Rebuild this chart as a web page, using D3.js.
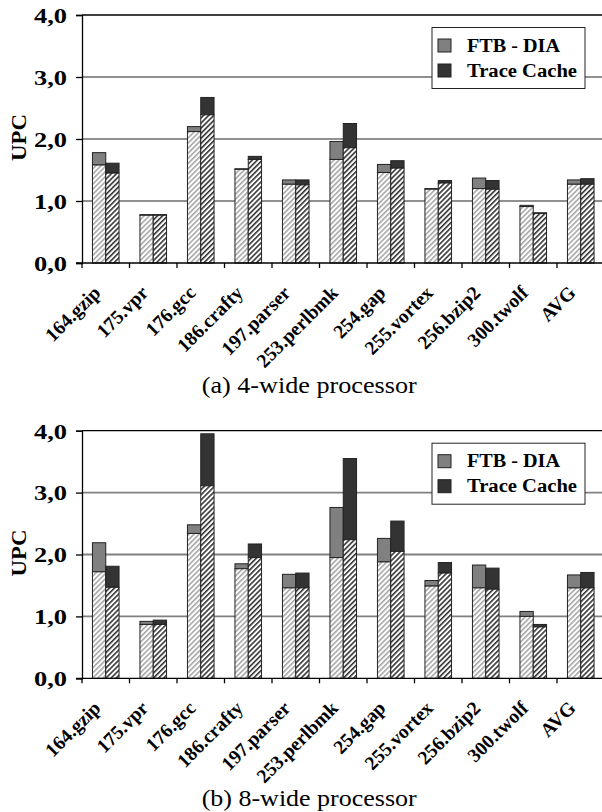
<!DOCTYPE html>
<html>
<head>
<meta charset="utf-8">
<script src="https://cdn.jsdelivr.net/npm/d3@7"></script>
<style>
  body { margin: 0; background: #fff; }
  svg { display: block; }
  text { font-family: "Liberation Serif", "Times New Roman", Times, serif; }
</style>
</head>
<body>
<svg id="chart" width="602" height="812"></svg>
<script>
const categories = ['164.gzip', '175.vpr', '176.gcc', '186.crafty', '197.parser',
  '253.perlbmk', '254.gap', '255.vortex', '256.bzip2', '300.twolf', 'AVG'];
const series = ['FTB - DIA', 'Trace Cache'];
const yTicks = [0, 1, 2, 3, 4];

// 4-wide processor: hatched base and full bar height
const ftbBase4 = [1.58, 0.77, 2.12, 1.51, 1.27, 1.67, 1.46, 1.19, 1.20, 0.91, 1.27];
const ftbTotal4 = [1.78, 0.78, 2.20, 1.52, 1.34, 1.96, 1.59, 1.20, 1.37, 0.93, 1.34];
const tcBase4 = [1.45, 0.77, 2.39, 1.67, 1.26, 1.86, 1.53, 1.29, 1.19, 0.80, 1.27];
const tcTotal4 = [1.61, 0.78, 2.67, 1.72, 1.34, 2.25, 1.65, 1.33, 1.33, 0.81, 1.36];

// 8-wide processor
const ftbBase8 = [1.72, 0.87, 2.34, 1.77, 1.46, 1.95, 1.88, 1.49, 1.46, 1.00, 1.46];
const ftbTotal8 = [2.19, 0.92, 2.48, 1.85, 1.68, 2.76, 2.26, 1.58, 1.83, 1.08, 1.67];
const tcBase8 = [1.47, 0.87, 3.11, 1.95, 1.46, 2.24, 2.05, 1.70, 1.44, 0.83, 1.46];
const tcTotal8 = [1.81, 0.94, 3.95, 2.17, 1.70, 3.55, 2.54, 1.87, 1.78, 0.87, 1.71];

const svg = d3.select('#chart');
const defs = svg.append('defs');

function hatch(id, color, width) {
  const p = defs.append('pattern')
    .attr('id', id)
    .attr('patternUnits', 'userSpaceOnUse')
    .attr('width', 3.6).attr('height', 3.6)
    .attr('patternTransform', 'rotate(45)');
  p.append('rect').attr('width', 3.6).attr('height', 3.6).attr('fill', '#fff');
  p.append('line')
    .attr('x1', 0.8).attr('y1', 0).attr('x2', 0.8).attr('y2', 3.6)
    .attr('stroke', color).attr('stroke-width', width);
}
hatch('hatchLight', '#9a9a9a', 1.4);
hatch('hatchDark', '#333', 1.6);

const segColors = ['#808080', '#333333'];
const baseFills = ['url(#hatchLight)', 'url(#hatchDark)'];

const left = 82, right = 604.5;

function drawPanel(cfg) {
  const g = svg.append('g');

  const y = d3.scaleLinear().domain([0, 4]).range([cfg.bottom, cfg.top]);
  const xTick = d3.scaleBand().domain(categories).range([left, right]);
  const x0 = d3.scaleBand().domain(categories).range([left, right])
    .paddingInner(0.44).paddingOuter(0.22);
  const x1 = d3.scaleBand().domain(series).range([0, x0.bandwidth()]);

  // gridlines
  g.append('g')
    .selectAll('line')
    .data(yTicks.filter(d => d > 0))
    .join('line')
    .attr('x1', left).attr('x2', 602)
    .attr('y1', d => y(d)).attr('y2', d => y(d))
    .attr('stroke', d => d === 4 ? '#000' : cfg.gridColor)
    .attr('stroke-width', d => d === 4 ? 1.3 : cfg.gridWidth);

  // y axis
  const yAxis = g.append('g')
    .attr('transform', `translate(${left},0)`)
    .call(d3.axisLeft(y).tickValues(yTicks).tickSize(6)
      .tickFormat(d => d3.format('.1f')(d).replace('.', ',')));
  yAxis.attr('font-family', null);
  yAxis.select('.domain').attr('stroke', '#000').attr('stroke-width', 1.3);
  yAxis.selectAll('.tick line').attr('stroke', '#000').attr('stroke-width', 1.3);
  yAxis.selectAll('.tick text')
    .attr('x', -15)
    .attr('dy', '0.35em')
    .attr('textLength', 33)
    .attr('lengthAdjust', 'spacingAndGlyphs')
    .style('font-size', '21px')
    .style('font-weight', 'bold')
    .attr('fill', '#000');

  g.append('text')
    .attr('transform', `translate(25.5,${(cfg.top + cfg.bottom) / 2 - 1.5}) rotate(-90)`)
    .attr('text-anchor', 'middle')
    .attr('textLength', 47)
    .attr('lengthAdjust', 'spacingAndGlyphs')
    .style('font-size', '20px')
    .style('font-weight', 'bold')
    .text('UPC');

  // bars
  const rows = categories.map((c, i) => ({
    cat: c,
    vals: [
      { s: 0, base: cfg.ftbBase[i], total: cfg.ftbTotal[i] },
      { s: 1, base: cfg.tcBase[i], total: cfg.tcTotal[i] }
    ]
  }));

  const grp = g.append('g').selectAll('g')
    .data(rows)
    .join('g')
    .attr('transform', d => `translate(${x0(d.cat)},0)`);

  const bar = grp.selectAll('g')
    .data(d => d.vals)
    .join('g')
    .attr('transform', d => `translate(${x1(series[d.s])},0)`);

  bar.append('rect')
    .attr('y', d => y(d.total))
    .attr('width', x1.bandwidth())
    .attr('height', d => y(d.base) - y(d.total))
    .attr('fill', d => segColors[d.s])
    .attr('stroke', '#222').attr('stroke-width', 1);

  bar.append('rect')
    .attr('y', d => y(d.base))
    .attr('width', x1.bandwidth())
    .attr('height', d => y(0) - y(d.base))
    .attr('fill', d => baseFills[d.s])
    .attr('stroke', '#222').attr('stroke-width', 1);

  // x axis
  const xAxis = g.append('g').attr('transform', `translate(0,${cfg.bottom})`);
  xAxis.append('line')
    .attr('x1', left - 6).attr('x2', 602)
    .attr('stroke', '#000').attr('stroke-width', 1.3);
  xAxis.selectAll('line.tk')
    .data(categories.concat(['__end']))
    .join('line')
    .attr('class', 'tk')
    .attr('x1', (d, i) => left + i * xTick.step())
    .attr('x2', (d, i) => left + i * xTick.step())
    .attr('y1', 0).attr('y2', 5)
    .attr('stroke', '#000').attr('stroke-width', 1.3);

  xAxis.selectAll('text')
    .data(categories)
    .join('text')
    .attr('transform', d => `translate(${xTick(d) + xTick.bandwidth() / 2 - 4},31) rotate(-45)`)
    .attr('text-anchor', 'end')
    .style('font-size', '19.5px')
    .style('font-weight', 'bold')
    .text(d => d);

  // legend
  const lg = g.append('g').attr('transform', `translate(432,${cfg.top + 12.5})`);
  lg.append('rect')
    .attr('width', 153).attr('height', 61)
    .attr('fill', '#fff').attr('stroke', '#222').attr('stroke-width', 1);
  const item = lg.selectAll('g')
    .data(series)
    .join('g')
    .attr('transform', (d, i) => `translate(6,${11.5 + i * 25})`);
  item.append('rect')
    .attr('width', 13).attr('height', 13)
    .attr('fill', (d, i) => segColors[i])
    .attr('stroke', '#222').attr('stroke-width', 1);
  item.append('text')
    .attr('x', 29).attr('y', 12.5)
    .attr('textLength', (d, i) => [93, 110][i])
    .attr('lengthAdjust', 'spacingAndGlyphs')
    .style('font-size', '18px')
    .style('font-weight', 'bold')
    .text(d => d);

  // caption
  svg.append('text')
    .attr('x', 201.7).attr('y', cfg.captionY)
    .attr('textLength', 215)
    .attr('lengthAdjust', 'spacingAndGlyphs')
    .style('font-size', '23px')
    .text(cfg.caption);
}

drawPanel({
  top: 15, bottom: 263,
  ftbBase: ftbBase4, ftbTotal: ftbTotal4, tcBase: tcBase4, tcTotal: tcTotal4,
  gridColor: '#222', gridWidth: 1.1,
  caption: '(a) 4-wide processor', captionY: 393
});

drawPanel({
  top: 430.7, bottom: 678.3,
  ftbBase: ftbBase8, ftbTotal: ftbTotal8, tcBase: tcBase8, tcTotal: tcTotal8,
  gridColor: '#808080', gridWidth: 1.8,
  caption: '(b) 8-wide processor', captionY: 806
});
</script>
</body>
</html>
